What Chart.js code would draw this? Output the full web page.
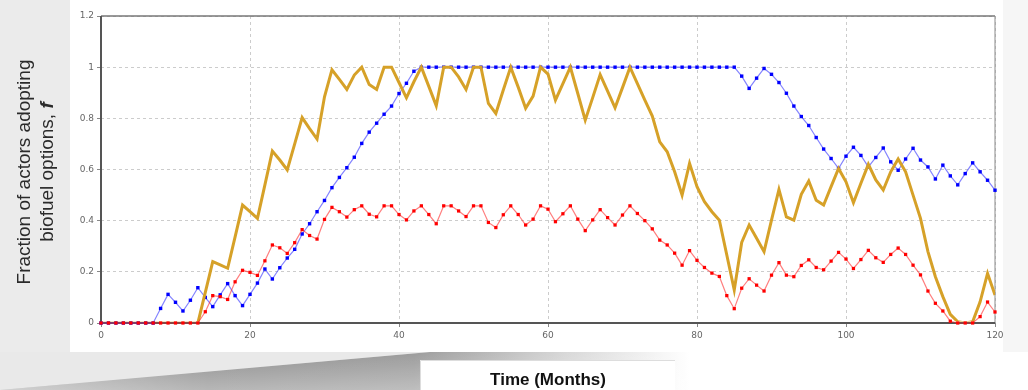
<!DOCTYPE html>
<html>
<head>
<meta charset="utf-8">
<script src="https://cdn.jsdelivr.net/npm/chart.js@4.4.1/dist/chart.umd.min.js"></script>
<style>
  html, body { margin: 0; padding: 0; background: #ebebeb; }
  #wrap { width: 1028px; height: 390px; }
</style>
</head>
<body>
<div id="wrap"><canvas id="chart" width="1028" height="390"></canvas></div>
<script>
const months = [
  0, 1, 2, 3, 4, 5, 6, 7, 8, 9, 10, 11, 12, 13, 14, 15, 16, 17, 18, 19,
  20, 21, 22, 23, 24, 25, 26, 27, 28, 29, 30, 31, 32, 33, 34, 35, 36, 37, 38, 39,
  40, 41, 42, 43, 44, 45, 46, 47, 48, 49, 50, 51, 52, 53, 54, 55, 56, 57, 58, 59,
  60, 61, 62, 63, 64, 65, 66, 67, 68, 69, 70, 71, 72, 73, 74, 75, 76, 77, 78, 79,
  80, 81, 82, 83, 84, 85, 86, 87, 88, 89, 90, 91, 92, 93, 94, 95, 96, 97, 98, 99,
  100, 101, 102, 103, 104, 105, 106, 107, 108, 109, 110, 111, 112, 113, 114, 115, 116, 117, 118, 119,
  120
];

const blueSeries = [
  0, 0, 0, 0, 0, 0, 0, 0, 0.057, 0.112,
  0.081, 0.047, 0.089, 0.138, 0.10, 0.064, 0.11, 0.154, 0.107, 0.068,
  0.112, 0.156, 0.211, 0.172, 0.216, 0.254, 0.288, 0.348, 0.388, 0.435,
  0.479, 0.529, 0.569, 0.607, 0.648, 0.702, 0.746, 0.781, 0.816, 0.848,
  0.897, 0.937, 0.984, 1, 1, 1, 1, 1, 1, 1,
  1, 1, 1, 1, 1, 1, 1, 1, 1, 1,
  1, 1, 1, 1, 1, 1, 1, 1, 1, 1,
  1, 1, 1, 1, 1, 1, 1, 1, 1, 1,
  1, 1, 1, 1, 1, 1, 0.965, 0.917, 0.957, 0.995,
  0.972, 0.94, 0.898, 0.848, 0.807, 0.772, 0.725, 0.68, 0.643, 0.604,
  0.652, 0.687, 0.655, 0.61, 0.647, 0.684, 0.63, 0.597, 0.641, 0.683,
  0.637, 0.61, 0.563, 0.617, 0.575, 0.54, 0.584, 0.626, 0.591, 0.558,
  0.519
];

const redSeries = [
  0, 0, 0, 0, 0, 0, 0, 0, 0, 0,
  0, 0, 0, 0, 0.044, 0.107, 0.103, 0.092, 0.161, 0.206,
  0.198, 0.186, 0.243, 0.305, 0.294, 0.272, 0.314, 0.365, 0.342, 0.328,
  0.405, 0.452, 0.435, 0.414, 0.443, 0.458, 0.425, 0.415, 0.458, 0.458,
  0.424, 0.403, 0.438, 0.458, 0.424, 0.388, 0.458, 0.458, 0.438, 0.416,
  0.458, 0.458, 0.393, 0.373, 0.423, 0.458, 0.424, 0.383, 0.406, 0.458,
  0.445, 0.396, 0.427, 0.458, 0.406, 0.361, 0.403, 0.443, 0.412, 0.383,
  0.422, 0.458, 0.428, 0.4, 0.368, 0.324, 0.305, 0.273, 0.226, 0.283,
  0.245, 0.217, 0.195, 0.182, 0.107, 0.056, 0.136, 0.173, 0.148, 0.125,
  0.187, 0.236, 0.187, 0.181, 0.225, 0.247, 0.217, 0.208, 0.242, 0.276,
  0.25, 0.213, 0.248, 0.284, 0.255, 0.237, 0.268, 0.293, 0.268, 0.226,
  0.188, 0.125, 0.077, 0.047, 0.007, 0, 0, 0, 0.025, 0.082,
  0.043
];

const goldSeries = [
  0, 0, 0, 0, 0, 0, 0, 0, 0, 0,
  0, 0, 0, 0, 0.12, 0.24, 0.227, 0.214, 0.337, 0.461,
  0.435, 0.409, 0.54, 0.672, 0.637, 0.598, 0.70, 0.803, 0.76, 0.719,
  0.884, 0.99, 0.952, 0.913, 0.969, 1, 0.932, 0.913, 1, 1,
  0.94, 0.88, 0.943, 1, 0.925, 0.849, 1, 1, 0.962, 0.913,
  1, 1, 0.858, 0.819, 0.911, 1, 0.922, 0.839, 0.887, 1,
  0.973, 0.871, 0.936, 1, 0.897, 0.793, 0.881, 0.971, 0.906, 0.841,
  0.92, 1, 0.936, 0.871, 0.809, 0.708, 0.669, 0.591, 0.5, 0.624,
  0.533, 0.474, 0.435, 0.402, 0.266, 0.129, 0.315, 0.383, 0.331, 0.279,
  0.402, 0.522, 0.415, 0.402, 0.503, 0.555, 0.48, 0.461, 0.533, 0.604,
  0.552, 0.47, 0.546, 0.62, 0.559, 0.52, 0.591, 0.641, 0.591, 0.5,
  0.409, 0.279, 0.181, 0.103, 0.034, 0.005, 0, 0.005, 0.083, 0.194,
  0.109
];

const xTicks = [0, 20, 40, 60, 80, 100, 120];
const yTicks = [0, 0.2, 0.4, 0.6, 0.8, 1, 1.2];
const yTitleLines = ['Fraction of actors adopting', 'biofuel options, '];
const yTitleSymbol = 'f';
const xTitle = 'Time (Months)';

function toPoints(values) {
  return months.map((m, i) => ({ x: m, y: values[i] }));
}

// grey slide, white panel and the shadow under it
const backdrop = {
  id: 'backdrop',
  beforeDraw(chart) {
    const ctx = chart.ctx;
    const w = chart.width, h = chart.height;
    ctx.save();
    ctx.fillStyle = '#ebebeb';
    ctx.fillRect(0, 0, w, h);
    ctx.fillStyle = '#ffffff';
    ctx.fillRect(70, 0, 933, 352);
    ctx.fillRect(70, 352, w - 70, h - 352);
    ctx.fillStyle = '#f6f6f6';
    ctx.fillRect(1003, 0, w - 1003, 352);

    ctx.fillStyle = '#e9e9e9';
    ctx.beginPath();
    ctx.moveTo(0, 352);
    ctx.lineTo(430, 352);
    ctx.lineTo(0, 390);
    ctx.closePath();
    ctx.fill();

    const g = ctx.createLinearGradient(0, 0, 690, 0);
    g.addColorStop(0, '#b8b8b8');
    g.addColorStop(0.3, '#909090');
    g.addColorStop(0.6, '#9c9c9c');
    g.addColorStop(0.82, '#d8d8d8');
    g.addColorStop(1, '#ffffff');
    ctx.fillStyle = g;
    ctx.beginPath();
    ctx.moveTo(0, 390);
    ctx.lineTo(430, 352);
    ctx.lineTo(690, 352);
    ctx.lineTo(690, 390);
    ctx.closePath();
    ctx.fill();

    // fade the shadow towards the bottom
    const v = ctx.createLinearGradient(0, 352, 0, 390);
    v.addColorStop(0, 'rgba(255,255,255,0)');
    v.addColorStop(1, 'rgba(255,255,255,0.35)');
    ctx.fillStyle = v;
    ctx.fill();

    // box holding the x title
    ctx.fillStyle = '#ffffff';
    ctx.fillRect(420, 360, 255, 30);
    ctx.strokeStyle = '#dddddd';
    ctx.lineWidth = 1;
    ctx.beginPath();
    ctx.moveTo(420.5, 390);
    ctx.lineTo(420.5, 360.5);
    ctx.lineTo(675, 360.5);
    ctx.stroke();
    ctx.restore();
  },
  beforeDatasetsDraw(chart) {
    const { ctx, chartArea: a } = chart;
    ctx.save();
    ctx.strokeStyle = '#777777';
    ctx.lineWidth = 1.5;
    ctx.beginPath();
    ctx.moveTo(a.left, a.top);
    ctx.lineTo(a.right, a.top);
    ctx.stroke();
    ctx.strokeStyle = '#8a8a8a';
    ctx.lineWidth = 1;
    ctx.beginPath();
    ctx.moveTo(a.right, a.top);
    ctx.lineTo(a.right, a.bottom);
    ctx.stroke();
    ctx.strokeStyle = '#555555';
    ctx.lineWidth = 2;
    ctx.beginPath();
    ctx.moveTo(a.left, a.top);
    ctx.lineTo(a.left, a.bottom);
    ctx.lineTo(a.right, a.bottom);
    ctx.stroke();
    ctx.restore();
  },
  afterDraw(chart) {
    const ctx = chart.ctx;
    const cy = 172;
    const font = '19px "Liberation Sans", Arial, sans-serif';
    const symFont = 'italic bold 19px "Liberation Sans", Arial, sans-serif';
    ctx.save();
    ctx.fillStyle = '#2a2a2a';
    ctx.textBaseline = 'middle';

    // rotated y title, two lines, last symbol bold italic
    ctx.save();
    ctx.translate(25, cy);
    ctx.rotate(-Math.PI / 2);
    ctx.font = font;
    ctx.textAlign = 'center';
    ctx.fillText(yTitleLines[0], 0, 0);
    ctx.restore();

    ctx.save();
    ctx.translate(48, cy);
    ctx.rotate(-Math.PI / 2);
    ctx.font = font;
    const w1 = ctx.measureText(yTitleLines[1]).width;
    ctx.font = symFont;
    const w2 = ctx.measureText(yTitleSymbol).width;
    const start = -(w1 + w2) / 2;
    ctx.textAlign = 'left';
    ctx.font = font;
    ctx.fillText(yTitleLines[1], start, 0);
    ctx.font = symFont;
    ctx.fillText(yTitleSymbol, start + w1, 0);
    ctx.restore();

    ctx.fillStyle = '#111111';
    ctx.font = 'bold 17px "Liberation Sans", Arial, sans-serif';
    ctx.textAlign = 'center';
    ctx.fillText(xTitle, 548, 380);
    ctx.restore();
  }
};

const tickFont = { family: '"DejaVu Sans", sans-serif', size: 9 };

new Chart(document.getElementById('chart'), {
  type: 'line',
  data: {
    datasets: [
      {
        label: 'red',
        data: toPoints(redSeries),
        borderColor: 'rgba(255, 40, 40, 0.6)',
        borderWidth: 1.2,
        pointStyle: 'rect',
        pointRadius: 2.3,
        pointBackgroundColor: '#ff0000',
        pointBorderWidth: 0,
        clip: false
      },
      {
        label: 'gold',
        data: toPoints(goldSeries),
        borderColor: '#d6a128',
        borderWidth: 3,
        pointRadius: 0,
        clip: { left: 0, top: 5, right: 0, bottom: -1.5 }
      },
      {
        label: 'blue',
        data: toPoints(blueSeries),
        borderColor: 'rgba(50, 50, 255, 0.6)',
        borderWidth: 1.2,
        pointStyle: 'rect',
        pointRadius: 2.4,
        pointBackgroundColor: '#0000ff',
        pointBorderWidth: 0,
        clip: false
      }
    ]
  },
  options: {
    responsive: false,
    animation: false,
    devicePixelRatio: 1,
    layout: { padding: { left: 70, right: 33, top: 16, bottom: 37 } },
    plugins: {
      legend: { display: false },
      tooltip: { enabled: false }
    },
    scales: {
      x: {
        type: 'linear',
        min: 0,
        max: 120,
        afterBuildTicks: (scale) => { scale.ticks = xTicks.map(v => ({ value: v })); },
        afterFit: (scale) => { scale.height = 30; },
        ticks: { color: '#666666', font: tickFont, padding: 3, maxRotation: 0, callback: (v) => String(v) },
        grid: { color: '#cccccc', tickColor: '#888888', tickLength: 4 },
        border: { display: false, dash: [3, 3] }
      },
      y: {
        min: 0,
        max: 1.2,
        afterBuildTicks: (scale) => { scale.ticks = yTicks.map(v => ({ value: v })); },
        afterFit: (scale) => { scale.width = 31; },
        ticks: { color: '#666666', font: tickFont, padding: 3, callback: (v) => String(v) },
        grid: { color: '#cccccc', tickColor: '#888888', tickLength: 4 },
        border: { display: false, dash: [3, 3] }
      }
    }
  },
  plugins: [backdrop]
});
</script>
</body>
</html>
